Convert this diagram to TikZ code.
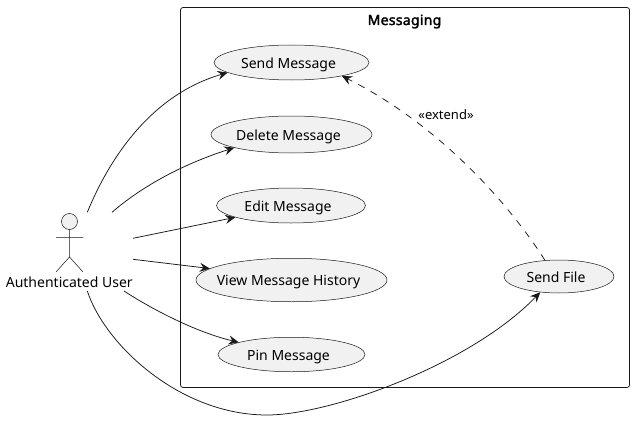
\documentclass[tikz,border=0pt]{standalone}
\usepackage{fontspec}
\setmainfont{Noto Sans}
\newfontfamily\titlefont{Noto Sans}[FakeBold=2.2,LetterSpace=2]
\usetikzlibrary{arrows.meta,shapes.geometric}
\definecolor{ufill}{HTML}{F1F1F1}
\definecolor{ink}{HTML}{181818}
\tikzset{x=1pt,y=-1pt,
 uc/.style={draw=ink,fill=ufill,shape=ellipse,line width=.5pt,inner ysep=0pt,inner xsep=-8pt,font=\fontsize{14}{16}\selectfont,text=black,text height=13pt,text depth=2pt,execute at end node={\kern6pt}},
 lnk/.style={draw=ink,line width=.75pt,-{Stealth[length=10pt,width=9pt,inset=3.5pt]}},
 ext/.style={lnk,dash pattern=on 7pt off 7pt},
 lbl/.style={font=\fontsize{14}{16}\selectfont,text=black,inner sep=0pt},
 act/.style={draw=ink,line width=.5pt}}
\begin{document}
\begin{tikzpicture}
\useasboundingbox (0,0) rectangle (634,436);
\fill[white] (0,0) rectangle (634,436);
\draw[ink,line width=.75pt,rounded corners=2.5pt] (180.5,7.5) rectangle (629.5,387.5);
\node[lbl,font=\titlefont\fontsize{14}{16}\selectfont,text height=13pt,text depth=2pt] (title) at (404.5,19.5) {Messaging};
\node[uc,minimum width=155pt,minimum height=35pt] (send) at (291.5,62.5) {Send Message};
\node[uc,minimum width=161pt,minimum height=37pt] (del) at (291.5,134.5) {Delete Message};
\node[uc,minimum width=149pt,minimum height=35pt] (edit) at (291,205.5) {Edit Message};
\node[uc,minimum width=191pt,minimum height=43.5pt] (view) at (291.5,280) {View Message History};
\node[uc,minimum width=147pt,minimum height=34.5pt] (pin) at (291.5,354.5) {Pin Message};
\node[uc,minimum width=110pt,minimum height=33pt] (file) at (559,276.5) {Send File};
\draw[act,fill=ufill] (69.5,221.5) circle (8);
\draw[act] (69.5,229.5) -- (69.5,257) (56,237.5) -- (83,237.5) (56,272) -- (69.5,257) -- (83,272);
\node[lbl] (user) at (69.3,282.5) {Authenticated User};
\coordinate (a1) at (87.3,212.3);
\coordinate (a2) at (112,212.3);
\coordinate (a3) at (133,238.3);
\coordinate (a4) at (133,259.3);
\coordinate (a5) at (124,291);
\coordinate (a6) at (87.3,291);
\path[lnk] (a1) .. controls (115,145) and (160,92) .. (send.189);
\path[lnk] (a2) .. controls (140,188) and (180,165) .. (del.193);
\path[lnk] (a3) -- (edit.192);
\path[lnk] (a4) -- (view.172);
\path[lnk] (a5) .. controls (150,308) and (195,332) .. (pin.167);
\path[lnk] (a6) .. controls (105,345) and (180,415) .. (267,415) .. controls (330,415) and (470,365) .. (file.220);
\path[ext] (file.131) .. controls (510,205) and (440,125) .. (send.345);
\node[lbl,font=\fontsize{13}{15}\selectfont] (ext) at (446,114.5) {«extend»};
\end{tikzpicture}
\end{document}
